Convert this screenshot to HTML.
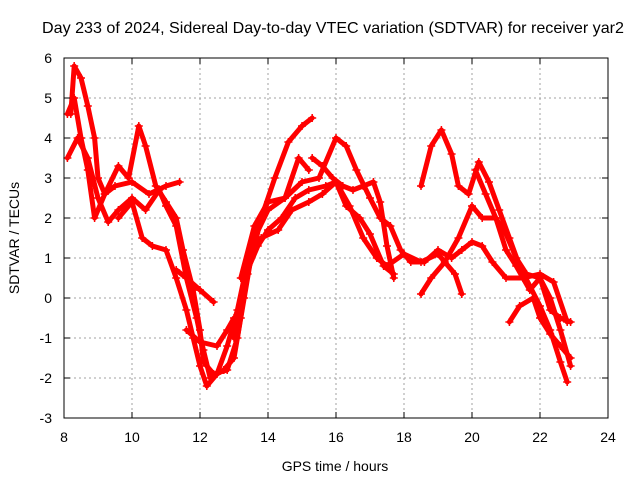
<!DOCTYPE html>
<html><head><meta charset="utf-8"><style>
body{margin:0;background:#fff}
svg{display:block;font-family:"Liberation Sans",sans-serif}
</style></head><body>
<svg id="chart" width="640" height="480">
<rect x="0" y="0" width="640" height="480" fill="#fff"/>
<g id="grid"></g><g id="series"></g><g id="axes"></g>
<text x="333" y="33" text-anchor="middle" font-size="16" textLength="582" lengthAdjust="spacingAndGlyphs">Day 233 of 2024, Sidereal Day-to-day VTEC variation (SDTVAR) for receiver yar2</text>
<text x="335" y="471" text-anchor="middle" font-size="14">GPS time / hours</text>
<text transform="translate(19,238) rotate(-90)" text-anchor="middle" font-size="14">SDTVAR / TECUs</text>
</svg>
<script>
const xTicks=[8,10,12,14,16,18,20,22,24];
const yTicks=[-3,-2,-1,0,1,2,3,4,5,6];
const track1=[[8.2,4.6],[8.3,5.8],[8.5,5.5],[8.7,4.8],[8.9,4.0],[9.0,3.0],[9.2,2.6],[9.5,2.8],[10,2.9],[10.5,2.6],[11,2.8],[11.4,2.9]];
const track2=[[8.1,4.6],[8.3,5.0],[8.5,4.0],[8.7,3.2],[8.9,2.0],[9.2,2.6],[9.6,3.3],[9.9,3.0],[10.2,4.3],[10.4,3.8],[10.7,2.8],[11.0,2.4],[11.3,2.0],[11.5,1.2],[11.8,0.2],[12.0,-0.8],[12.1,-1.6],[12.4,-1.9],[12.8,-1.8],[13.1,-1.0],[13.4,0.6],[13.8,2.0],[14.2,3.0],[14.6,3.9],[15.0,4.3],[15.3,4.5]];
const track3=[[8.1,3.5],[8.4,4.0],[8.7,3.5],[9.0,2.5],[9.3,1.9],[9.6,2.2],[10,2.5],[10.4,2.2],[10.8,2.7],[11.0,2.3],[11.3,1.8],[11.6,0.5],[11.9,-0.5],[12.1,-1.3],[12.3,-2.0],[12.7,-1.8],[13.0,-1.5],[13.3,0.0],[13.6,1.5],[14.0,2.2],[14.5,2.5],[14.9,3.5],[15.2,3.2]];
const track4=[[9.6,2.0],[10.0,2.4],[10.3,1.5],[10.6,1.3],[11.0,1.2],[11.3,0.5],[11.6,-0.3],[11.8,-1.0],[12.0,-1.7],[12.2,-2.2],[12.5,-1.9],[12.8,-1.2],[13.1,-0.3],[13.4,0.9],[13.8,1.5],[14.3,1.7],[14.7,2.2],[15.2,2.4],[15.6,2.6],[16.0,2.9],[16.3,2.3],[16.7,2.0],[17.0,1.6],[17.4,0.8],[17.7,0.6]];
const track5=[[11.3,0.7],[11.6,0.5],[12.0,0.2],[12.4,-0.1]];
const track5b=[[11.6,-0.8],[12.0,-1.1],[12.5,-1.2],[12.8,-0.8],[13.0,-0.5],[13.2,-0.5]];
const track6=[[13.0,-1.0],[13.3,0.5],[13.7,1.3],[14.0,1.7],[14.4,2.0],[14.8,2.5],[15.2,2.7],[15.7,2.8],[16.0,2.9],[16.4,2.3],[16.8,1.5],[17.2,1.0],[17.5,0.8],[18.0,1.1],[18.5,0.9],[19.0,1.1],[19.5,0.6],[19.7,0.1]];
const track7=[[13.2,0.5],[13.6,1.8],[14.0,2.4],[14.5,2.5],[15.0,2.9],[15.5,3.0],[16.0,4.0],[16.3,3.8],[16.6,3.2],[17.0,2.5],[17.3,2.0],[17.6,1.8],[17.9,1.2],[18.2,0.9],[18.6,0.9],[19.0,1.2],[19.4,1.0],[19.7,1.2],[20.0,1.4],[20.3,1.3],[20.6,0.9],[21.0,0.5],[21.5,0.5],[22.0,0.6],[22.4,0.4],[22.8,-0.6]];
const track8=[[15.3,3.5],[15.6,3.3],[15.9,3.0],[16.2,2.8],[16.5,2.7],[16.8,2.8],[17.1,2.9],[17.3,2.4],[17.5,1.3],[17.7,0.5]];
const track9=[[18.5,2.8],[18.8,3.8],[19.1,4.2],[19.4,3.6],[19.6,2.8],[19.9,2.6],[20.2,3.4],[20.5,2.9],[20.8,2.2],[21.1,1.5],[21.4,0.8],[21.7,0.3],[22.0,-0.2],[22.3,-0.8],[22.6,-1.6],[22.8,-2.1]];
const track10=[[18.5,0.1],[18.8,0.5],[19.2,0.9],[19.6,1.5],[20.0,2.3],[20.3,2.0],[20.7,2.0],[21.0,1.2],[21.3,0.8],[21.7,0.2],[22.0,0.5],[22.3,0.0],[22.6,-0.8],[22.9,-1.7]];
const track11=[[21.1,-0.6],[21.4,-0.2],[21.8,0.0],[22.0,-0.5],[22.3,-0.9],[22.6,-1.2],[22.9,-1.5]];
const track12=[[20.1,3.2],[20.4,2.6],[20.7,2.0],[21.0,1.6],[21.3,1.0],[21.6,0.6],[22.0,0.5],[22.3,-0.3],[22.6,-0.5],[22.9,-0.6]];
const allTracks=[track1,track2,track3,track4,track5,track5b,track6,track7,track8,track9,track10,track11,track12];

const X0=64,X1=608,Y0=418,Y1=58;
const xs=v=>X0+(v-8)/(24-8)*(X1-X0);
const ys=v=>Y0-(v+3)/(6+3)*(Y0-Y1);
const NS="http://www.w3.org/2000/svg";
function mk(tag,attrs,parent){const e=document.createElementNS(NS,tag);for(const k in attrs)e.setAttribute(k,attrs[k]);parent.appendChild(e);return e;}
const grid=document.getElementById('grid'),axes=document.getElementById('axes'),ser=document.getElementById('series');
xTicks.forEach(t=>{const x=xs(t);
 if(t>8&&t<24){const g=mk('line',{x1:x,x2:x,y1:Y1,y2:Y0,stroke:'#a0a0a0','stroke-dasharray':'2,3'},grid);
 
 }
 mk('line',{x1:x,x2:x,y1:Y0,y2:Y0-6,stroke:'#000'},axes);mk('line',{x1:x,x2:x,y1:Y1,y2:Y1+6,stroke:'#000'},axes);
 const l=mk('text',{x:x,y:Y0+24,'text-anchor':'middle','font-size':14},axes);l.textContent=t;
 
 });
yTicks.forEach(t=>{const y=ys(t);
 if(t>-3&&t<6){const g=mk('line',{x1:X0,x2:X1,y1:y,y2:y,stroke:'#a0a0a0','stroke-dasharray':'2,3'},grid);
 
 }
 mk('line',{x1:X0,x2:X0+6,y1:y,y2:y,stroke:'#000'},axes);mk('line',{x1:X1,x2:X1-6,y1:y,y2:y,stroke:'#000'},axes);
 const l=mk('text',{x:X0-12,y:y+5,'text-anchor':'end','font-size':14},axes);l.textContent=t;
 
 });
const fr=mk('rect',{x:X0,y:Y1,width:X1-X0,height:Y0-Y1,fill:'none',stroke:'#000'},axes);


allTracks.forEach((tr,i)=>{
 const g=mk('g',{},ser);
 
 
 mk('polyline',{points:tr.map(p=>xs(p[0])+','+ys(p[1])).join(' '),fill:'none',stroke:'#ff0000','stroke-width':5,'stroke-linejoin':'round','stroke-linecap':'round'},g);
 tr.forEach(p=>{const x=xs(p[0]),y=ys(p[1]);
  mk('path',{d:`M${x-4},${y}H${x+4}M${x},${y-4}V${y+4}`,stroke:'#ff0000','stroke-width':1.5},g);});
});
</script>
</body></html>
